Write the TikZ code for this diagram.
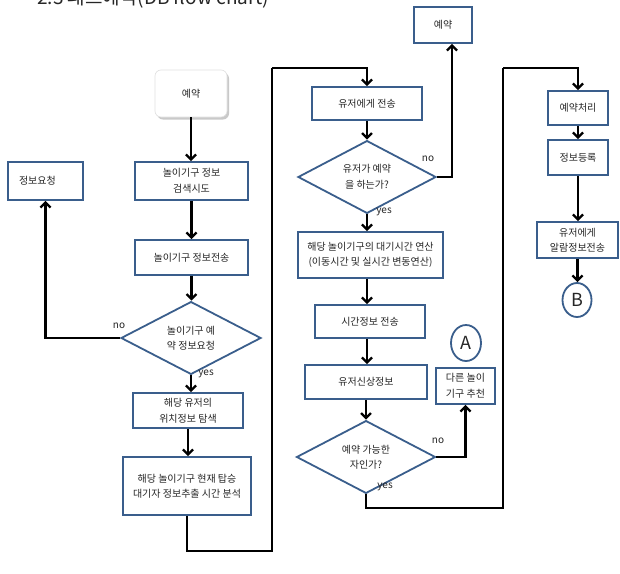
\documentclass[tikz,border=0pt]{standalone}
\usepackage{fontspec}
\newfontfamily\kr{Noto Sans CJK KR}
\usetikzlibrary{shapes.geometric,arrows.meta,shadows,calc}
\definecolor{boxblue}{HTML}{3A5E8C}
\definecolor{txt}{HTML}{262626}
\begin{document}
\begin{tikzpicture}[x=1pt,y=-1pt,
  every node/.style={font=\kr\fontsize{10}{15.5}\selectfont, text=txt},
  stepbox/.style={draw=boxblue, line width=1.8pt, fill=white, align=center, inner sep=0pt},
  decision/.style={diamond, draw=boxblue, line width=1.8pt, fill=white, align=center, inner sep=0pt},
  connector/.style={ellipse, draw=boxblue, line width=1.8pt, fill=white, inner sep=0pt, font=\kr\fontsize{18}{18}\selectfont},
  startbox/.style={rounded corners=6pt, draw=black!12, line width=0.6pt, fill=white, inner sep=0pt,
    drop shadow={shadow xshift=2pt, shadow yshift=-2.5pt, opacity=0.35, fill=black!60}},
  wire/.style={line width=2.3pt, line join=miter},
  arr/.style={wire, -{Straight Barb[length=5pt,width=10pt]}},
  lab/.style={font=\kr\fontsize{10}{12}\selectfont, inner sep=0pt}
]
\useasboundingbox (0,0) rectangle (620,573);
\clip (0,0) rectangle (620,573);
\fill[white] (0,0) rectangle (620,573);

% title (cut at the top)
\node[anchor=base west, inner sep=0pt, font=\kr\fontsize{19}{19}\selectfont, text=txt] (title) at (37,4.5) {2.3 패스예약(DB flow chart)};

% left column
\node[startbox, minimum width=72pt, minimum height=47pt] (start) at (191,93.5) {예약};
\node[stepbox, minimum width=113pt, minimum height=38pt] (search) at (191.5,181) {놀이기구 정보\\검색시도};
\node[stepbox, minimum width=113pt, minimum height=35pt] (send) at (191.5,257.5) {놀이기구 정보전송};
\node[decision, minimum width=140pt, minimum height=56pt] (d1) at (191,338) {놀이기구 예\\약 정보요청};
\node[stepbox, minimum height=38pt, text width=53pt, inner xsep=11pt, align=left] (info) at (45.5,181) {정보요청};
\node[stepbox, minimum width=110pt, minimum height=35pt] (locate) at (188,410.5) {해당 유저의\\위치정보 탐색};
\node[stepbox, minimum width=128pt, minimum height=58pt] (analyse) at (187,486) {해당 놀이기구 현재 탑승\\대기자 정보추출 시간 분석};

% middle column
\node[stepbox, minimum width=110pt, minimum height=33pt] (tosend) at (367,103.5) {유저에게 전송};
\node[decision, minimum width=138pt, minimum height=60pt] (d2) at (367,177) {유저가 예약\\을 하는가?};
\node[stepbox, minimum width=58pt, minimum height=36pt] (resv) at (443,25) {예약};
\node[stepbox, minimum width=145pt, minimum height=46pt] (calc) at (370.5,255) {해당 놀이기구의 대기시간 연산\\(이동시간 및 실시간 변동연산)};
\node[stepbox, minimum width=110pt, minimum height=33pt] (timeinfo) at (370,321.5) {시간정보 전송};
\node[stepbox, minimum width=122pt, minimum height=34pt] (profile) at (366,382) {유저신상정보};
\node[decision, minimum width=139pt, minimum height=58pt] (d3) at (366,457) {예약 가능한\\자인가?};
\node[stepbox, minimum width=59pt, minimum height=36pt] (other) at (465.5,386) {다른 놀이\\기구 추천};
\node[connector, minimum width=30pt, minimum height=36pt] (ca) at (466,343) {A};

% right column
\node[stepbox, minimum width=60pt, minimum height=34pt] (proc) at (578,108) {예약처리};
\node[stepbox, minimum width=60pt, minimum height=35pt] (reg) at (578,157.5) {정보등록};
\node[stepbox, minimum width=81pt, minimum height=36pt] (alarm) at (577.5,240) {유저에게\\알람정보전송};
\node[connector, minimum width=29pt, minimum height=34pt] (cb) at (577,300) {B};

% bend points
\coordinate (b2) at (272,551);
\coordinate (b3) at (272,68);
\coordinate (r1) at (503,508);
\coordinate (r2) at (503,68);

% connectors
\draw[arr] (start.south) -- (start.south |- search.north);
\draw[arr] (search.south) -- (search.south |- send.north);
\draw[arr] (send.south) -- (send.south |- d1.north);
\draw[arr] (d1.west) -| (info.south);
\draw[arr] (d1.south) -- (d1.south |- locate.north);
\draw[arr] (locate.south) -- (locate.south |- analyse.north);
\draw[wire] (analyse.south) |- (b2) -- (b3);
\draw[arr] (b3) -| (tosend.north);
\draw[arr] (tosend.south) -- (tosend.south |- d2.north);
\draw[arr] (d2.east) -| ([xshift=9pt]resv.south);
\draw[arr] (d2.south) -- (d2.south |- calc.north);
\draw[arr] (d2.south |- calc.south) -- (d2.south |- timeinfo.north);
\draw[arr] (d2.south |- timeinfo.south) -- (d2.south |- profile.north);
\draw[arr] (d3.north |- profile.south) -- (d3.north);
\draw[arr] (d3.east) -| (other.south);
\draw[wire] (d3.south) |- (r1) -- (r2);
\draw[arr] (r2) -| (proc.north);
\draw[arr] (proc.south) -- (proc.south |- reg.north);
\draw[arr] (reg.south) -- (reg.south |- alarm.north);
\draw[arr] (alarm.south) -- (alarm.south |- cb.north);

% labels
\node[lab] (no1) at (119,326) {no};
\node[lab] (yes1) at (206,374) {yes};
\node[lab] (no2) at (428,159) {no};
\node[lab] (yes2) at (384,212) {yes};
\node[lab] (no3) at (438,441) {no};
\node[lab] (yes3) at (385,487) {yes};
\end{tikzpicture}
\end{document}
